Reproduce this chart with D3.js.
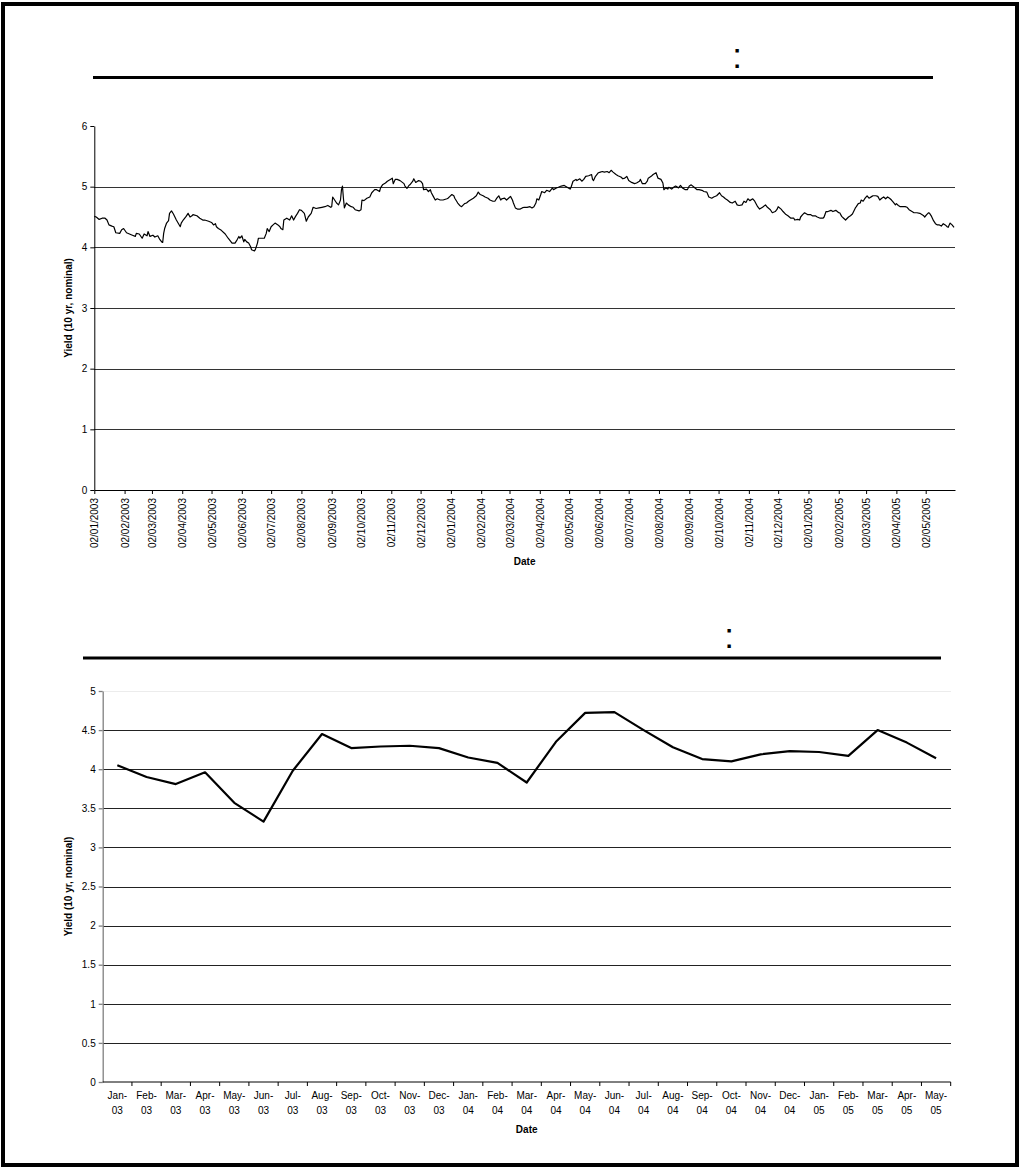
<!DOCTYPE html>
<html lang="en">
<head>
<meta charset="UTF-8">
<title>10 yr nominal yield</title>
<script src="https://d3js.org/d3.v7.min.js"></script>
<style>
  body { margin: 0; background: #fff; }
  svg text { font-family: Arial, 'Liberation Sans', sans-serif; fill: #000; }
  .tick text { font-size: 10px; }
  .axis-title { font-size: 10px; font-weight: bold; }
  .grid line { shape-rendering: crispEdges; }
</style>
</head>
<body>
<svg id="page" width="1020" height="1167"></svg>
<script>
// ---- daily series (top chart) ----
const dates2003 = ["2003-01-02","2003-01-04","2003-01-07","2003-01-10","2003-01-13","2003-01-15","2003-01-17","2003-01-20","2003-01-22","2003-01-24","2003-01-28","2003-01-30",
  "2003-02-01","2003-02-04","2003-02-07","2003-02-10","2003-02-13","2003-02-14","2003-02-17","2003-02-20","2003-02-22","2003-02-25","2003-02-26","2003-02-28",
  "2003-03-03","2003-03-05","2003-03-08","2003-03-10","2003-03-12","2003-03-13","2003-03-14","2003-03-15","2003-03-17","2003-03-19","2003-03-20","2003-03-22","2003-03-24","2003-03-27","2003-03-31",
  "2003-04-01","2003-04-03","2003-04-06","2003-04-08","2003-04-10","2003-04-12","2003-04-13","2003-04-17","2003-04-20","2003-04-23","2003-04-25","2003-04-29",
  "2003-05-02","2003-05-04","2003-05-06","2003-05-07","2003-05-09","2003-05-12","2003-05-16","2003-05-19","2003-05-23","2003-05-26","2003-05-28","2003-05-30","2003-05-31",
  "2003-06-02","2003-06-04","2003-06-05","2003-06-07","2003-06-09","2003-06-11","2003-06-12","2003-06-15","2003-06-16","2003-06-18","2003-06-19","2003-06-22","2003-06-25","2003-06-27","2003-06-28","2003-06-30",
  "2003-07-02","2003-07-04","2003-07-06","2003-07-09","2003-07-11","2003-07-12","2003-07-14","2003-07-15","2003-07-18","2003-07-21","2003-07-23","2003-07-25","2003-07-27","2003-07-29","2003-07-31",
  "2003-08-02","2003-08-05","2003-08-07","2003-08-09","2003-08-12","2003-08-14","2003-08-17","2003-08-20","2003-08-23","2003-08-26","2003-08-29",
  "2003-09-01","2003-09-02","2003-09-03","2003-09-05","2003-09-07","2003-09-09","2003-09-11","2003-09-12","2003-09-13","2003-09-14","2003-09-15","2003-09-17","2003-09-19","2003-09-22","2003-09-24","2003-09-26","2003-09-30",
  "2003-10-02","2003-10-03","2003-10-05","2003-10-08","2003-10-11","2003-10-13","2003-10-16","2003-10-18","2003-10-21","2003-10-22","2003-10-24","2003-10-27","2003-10-29",
  "2003-11-01","2003-11-03","2003-11-04","2003-11-06","2003-11-08","2003-11-11","2003-11-15","2003-11-16","2003-11-18","2003-11-20","2003-11-21","2003-11-24","2003-11-25","2003-11-27","2003-11-30",
  "2003-12-02","2003-12-04","2003-12-05","2003-12-08","2003-12-10","2003-12-12","2003-12-13","2003-12-15","2003-12-17","2003-12-19","2003-12-22","2003-12-25","2003-12-29","2003-12-30"];
const yields2003 = [4.51,4.50,4.46,4.48,4.48,4.45,4.37,4.35,4.34,4.24,4.23,4.29,
  4.31,4.24,4.22,4.20,4.18,4.23,4.22,4.15,4.22,4.19,4.26,4.18,
  4.20,4.17,4.19,4.13,4.09,4.08,4.23,4.31,4.40,4.44,4.56,4.60,4.55,4.45,4.34,
  4.40,4.45,4.51,4.56,4.50,4.52,4.54,4.52,4.48,4.45,4.45,4.43,
  4.41,4.37,4.39,4.34,4.31,4.28,4.22,4.15,4.07,4.07,4.12,4.18,4.15,
  4.19,4.09,4.13,4.09,4.07,4.01,3.96,3.94,3.97,4.07,4.15,4.15,4.15,4.23,4.31,4.26,
  4.34,4.37,4.40,4.37,4.34,4.31,4.29,4.45,4.48,4.45,4.52,4.45,4.51,4.56,4.62,
  4.61,4.56,4.43,4.50,4.56,4.66,4.64,4.65,4.66,4.67,4.69,
  4.66,4.67,4.83,4.78,4.73,4.70,4.78,4.95,5.01,4.81,4.65,4.73,4.70,4.67,4.66,4.62,4.60,
  4.62,4.78,4.77,4.81,4.83,4.90,4.95,4.95,4.92,4.98,5.03,5.06,5.09,
  5.12,5.14,5.05,5.12,5.12,5.10,5.05,5.01,4.97,5.02,5.03,5.09,5.13,5.07,5.10,
  5.09,5.05,4.95,4.96,4.92,4.95,4.90,4.84,4.78,4.80,4.78,4.78,4.80,4.81];

const dates2004 = ["2004-01-01","2004-01-03","2004-01-05","2004-01-06","2004-01-09","2004-01-11","2004-01-13","2004-01-16","2004-01-18","2004-01-20","2004-01-22","2004-01-25","2004-01-28","2004-01-30",
  "2004-02-01","2004-02-04","2004-02-06","2004-02-09","2004-02-11","2004-02-14","2004-02-16","2004-02-18","2004-02-20","2004-02-22","2004-02-23","2004-02-26","2004-02-28",
  "2004-03-01","2004-03-03","2004-03-05","2004-03-06","2004-03-08","2004-03-10","2004-03-13","2004-03-15","2004-03-17","2004-03-20","2004-03-23","2004-03-25","2004-03-27","2004-03-29","2004-03-30",
  "2004-04-01","2004-04-03","2004-04-04","2004-04-07","2004-04-09","2004-04-12","2004-04-15","2004-04-16","2004-04-19","2004-04-21","2004-04-24","2004-04-27","2004-04-30",
  "2004-05-03","2004-05-04","2004-05-06","2004-05-09","2004-05-10","2004-05-13","2004-05-15","2004-05-17","2004-05-19","2004-05-22","2004-05-25","2004-05-26","2004-05-27","2004-05-29",
  "2004-06-01","2004-06-03","2004-06-05","2004-06-07","2004-06-10","2004-06-12","2004-06-14","2004-06-16","2004-06-19","2004-06-21","2004-06-24","2004-06-26","2004-06-28","2004-06-30",
  "2004-07-02","2004-07-05","2004-07-08","2004-07-10","2004-07-13","2004-07-14","2004-07-16","2004-07-19","2004-07-21","2004-07-22","2004-07-25","2004-07-27","2004-07-30",
  "2004-08-01","2004-08-04","2004-08-06","2004-08-07","2004-08-09","2004-08-11","2004-08-12","2004-08-15","2004-08-17","2004-08-19","2004-08-22","2004-08-24","2004-08-26","2004-08-29","2004-08-31",
  "2004-09-02","2004-09-04","2004-09-07","2004-09-10","2004-09-12","2004-09-15","2004-09-17","2004-09-20","2004-09-22","2004-09-25","2004-09-27","2004-09-30",
  "2004-10-03","2004-10-05","2004-10-07","2004-10-09","2004-10-11","2004-10-14","2004-10-16","2004-10-19","2004-10-21","2004-10-23","2004-10-26","2004-10-28","2004-10-30",
  "2004-11-01","2004-11-03","2004-11-06","2004-11-08","2004-11-11","2004-11-13","2004-11-16","2004-11-19","2004-11-21","2004-11-24","2004-11-26","2004-11-29",
  "2004-12-01","2004-12-02","2004-12-05","2004-12-07","2004-12-10","2004-12-12","2004-12-15","2004-12-18","2004-12-19","2004-12-22","2004-12-24","2004-12-25","2004-12-27","2004-12-29"];
const yields2004 = [4.84,4.87,4.85,4.81,4.73,4.69,4.67,4.72,4.73,4.76,4.78,4.81,4.85,4.91,
  4.87,4.85,4.83,4.81,4.78,4.76,4.76,4.81,4.85,4.78,4.80,4.81,4.78,
  4.81,4.84,4.78,4.73,4.65,4.63,4.63,4.65,4.66,4.66,4.67,4.65,4.67,4.73,4.80,
  4.78,4.87,4.92,4.90,4.94,4.92,4.98,4.95,4.98,4.99,5.01,5.02,4.99,
  4.96,4.99,5.09,5.12,5.10,5.13,5.09,5.12,5.17,5.18,5.20,5.12,5.10,5.17,
  5.23,5.24,5.25,5.24,5.25,5.23,5.27,5.24,5.20,5.18,5.16,5.13,5.14,5.17,
  5.10,5.07,5.05,5.06,5.09,5.12,5.05,5.05,5.09,5.14,5.17,5.20,5.23,
  5.14,5.12,5.06,4.95,4.98,4.96,4.99,4.96,4.99,5.01,4.98,5.02,4.98,4.95,4.95,
  5.01,5.03,4.99,4.95,4.95,4.94,4.92,4.91,4.83,4.81,4.83,4.85,
  4.90,4.85,4.83,4.80,4.78,4.74,4.73,4.76,4.70,4.69,4.70,4.76,4.74,
  4.80,4.77,4.80,4.76,4.67,4.63,4.66,4.70,4.66,4.62,4.57,4.59,
  4.63,4.67,4.63,4.59,4.54,4.52,4.48,4.48,4.45,4.46,4.45,4.50,4.54,4.57];

const dates2005 = ["2005-01-01","2005-01-04","2005-01-06","2005-01-09","2005-01-11","2005-01-14","2005-01-17","2005-01-18","2005-01-20","2005-01-22","2005-01-25","2005-01-27","2005-01-30",
  "2005-02-02","2005-02-03","2005-02-05","2005-02-07","2005-02-09","2005-02-12","2005-02-14","2005-02-16","2005-02-19","2005-02-20","2005-02-22","2005-02-24","2005-02-25","2005-02-27",
  "2005-03-01","2005-03-03","2005-03-05","2005-03-08","2005-03-09","2005-03-12","2005-03-14","2005-03-16","2005-03-18","2005-03-20","2005-03-22","2005-03-24","2005-03-26","2005-03-28","2005-03-30",
  "2005-04-01","2005-04-02","2005-04-04","2005-04-06","2005-04-08","2005-04-11","2005-04-13","2005-04-15","2005-04-18","2005-04-20","2005-04-23","2005-04-26","2005-04-28","2005-04-30",
  "2005-05-01","2005-05-03","2005-05-05","2005-05-06","2005-05-08","2005-05-10","2005-05-12","2005-05-14","2005-05-16","2005-05-18","2005-05-20","2005-05-22","2005-05-24","2005-05-25","2005-05-27","2005-05-29","2005-05-31"];
const yields2005 = [4.54,4.54,4.52,4.52,4.50,4.48,4.48,4.50,4.59,4.59,4.61,4.59,4.61,
  4.57,4.57,4.51,4.48,4.45,4.50,4.52,4.55,4.65,4.67,4.72,4.73,4.78,4.76,
  4.81,4.85,4.81,4.84,4.85,4.85,4.84,4.78,4.81,4.83,4.80,4.83,4.81,4.78,4.74,
  4.70,4.72,4.69,4.67,4.67,4.67,4.66,4.62,4.59,4.57,4.57,4.56,4.54,4.52,
  4.50,4.54,4.57,4.56,4.51,4.44,4.39,4.37,4.37,4.35,4.39,4.37,4.34,4.33,4.40,4.37,4.33];

const dailyTickLabels = ["02/01/2003","02/02/2003","02/03/2003","02/04/2003","02/05/2003","02/06/2003","02/07/2003","02/08/2003","02/09/2003","02/10/2003","02/11/2003","02/12/2003",
  "02/01/2004","02/02/2004","02/03/2004","02/04/2004","02/05/2004","02/06/2004","02/07/2004","02/08/2004","02/09/2004","02/10/2004","02/11/2004","02/12/2004",
  "02/01/2005","02/02/2005","02/03/2005","02/04/2005","02/05/2005"];
const dailyYTicks = [0, 1, 2, 3, 4, 5, 6];

// ---- monthly series (bottom chart) ----
const months = ["Jan-03","Feb-03","Mar-03","Apr-03","May-03","Jun-03","Jul-03","Aug-03","Sep-03","Oct-03","Nov-03","Dec-03",
  "Jan-04","Feb-04","Mar-04","Apr-04","May-04","Jun-04","Jul-04","Aug-04","Sep-04","Oct-04","Nov-04","Dec-04",
  "Jan-05","Feb-05","Mar-05","Apr-05","May-05"];
const monthlyYields = [4.05,3.90,3.81,3.96,3.57,3.33,3.98,4.45,4.27,4.29,4.30,4.27,
  4.15,4.08,3.83,4.35,4.72,4.73,4.50,4.28,4.13,4.10,4.19,4.23,
  4.22,4.17,4.50,4.34,4.14];
const monthlyYTicks = [0, 0.5, 1, 1.5, 2, 2.5, 3, 3.5, 4, 4.5, 5];

const yTitle = "Yield (10 yr, nominal)";
const xTitle = "Date";

const svg = d3.select("#page");
const parseIso = d3.timeParse("%Y-%m-%d");
const parseDmy = d3.timeParse("%d/%m/%Y");

// page frame
svg.append("rect")
  .attr("x", 3).attr("y", 4).attr("width", 1014).attr("height", 1161)
  .attr("fill", "none").attr("stroke", "#000").attr("stroke-width", 4);

// heading rules with their colons
function heading(x1, x2, y, colonX, colonY) {
  svg.append("line").attr("x1", x1).attr("x2", x2).attr("y1", y).attr("y2", y)
    .attr("stroke", "#000").attr("stroke-width", 3);
  svg.append("text").attr("x", colonX).attr("y", colonY)
    .attr("text-anchor", "middle").style("font-size", "35px").text(":");
}
heading(93, 933, 77.5, 737, 67.5);
heading(83, 941, 658, 729, 647.5);

// ---------- top chart: daily ----------
{
  const left = 94.3, right = 955, top = 126, bottom = 490;
  const daily = dates2003.concat(dates2004, dates2005).map((d, i) => ({
    date: parseIso(d),
    value: yields2003.concat(yields2004, yields2005)[i]
  }));
  const x = d3.scaleTime()
    .domain([parseIso("2003-01-02"), parseIso("2005-06-01")])
    .range([left, right]);
  const y = d3.scaleLinear().domain([0, 6]).range([bottom, top]);

  svg.append("g").attr("class", "grid")
    .selectAll("line").data(dailyYTicks.filter(v => v > 0 && v < 6)).enter().append("line")
    .attr("x1", left).attr("x2", right)
    .attr("y1", d => Math.round(y(d)) + 0.5).attr("y2", d => Math.round(y(d)) + 0.5)
    .attr("stroke", "#333").attr("stroke-width", 1);

  const yAxis = svg.append("g")
    .attr("transform", `translate(${left},0)`)
    .call(d3.axisLeft(y).tickValues(dailyYTicks).tickSize(4).tickSizeOuter(0).tickPadding(3).tickFormat(d3.format("d")));
  yAxis.selectAll("path, line").attr("stroke", "#000");

  const xAxis = svg.append("g")
    .attr("transform", `translate(0,${bottom})`)
    .call(d3.axisBottom(x).tickValues(dailyTickLabels.map(parseDmy))
      .tickFormat(d3.timeFormat("%d/%m/%Y")).tickSize(4).tickSizeOuter(0));
  xAxis.selectAll("path, line").attr("stroke", "#000");
  xAxis.selectAll("text")
    .attr("transform", "rotate(-90)")
    .attr("text-anchor", "end")
    .attr("x", -8).attr("y", 0).attr("dy", "0.35em");

  svg.append("path").datum(daily)
    .attr("fill", "none").attr("stroke", "#000").attr("stroke-width", 1.2)
    .attr("stroke-linejoin", "round")
    .attr("d", d3.line().x(d => x(d.date)).y(d => y(d.value)));

  svg.append("text").attr("class", "axis-title")
    .attr("x", (left + right) / 2).attr("y", 565).attr("text-anchor", "middle").text(xTitle);
  svg.append("text").attr("class", "axis-title")
    .attr("transform", `translate(72,${(top + bottom) / 2}) rotate(-90)`)
    .attr("text-anchor", "middle").text(yTitle);
}

// ---------- bottom chart: monthly ----------
{
  const left = 102.7, right = 950.7, top = 691, bottom = 1082;
  const x = d3.scaleBand().domain(months).range([left, right]).padding(0);
  const y = d3.scaleLinear().domain([0, 5]).range([bottom, top]);

  svg.append("g").attr("class", "grid")
    .selectAll("line").data(monthlyYTicks.filter(v => v > 0)).enter().append("line")
    .attr("x1", left).attr("x2", right)
    .attr("y1", d => Math.round(y(d)) + 0.5).attr("y2", d => Math.round(y(d)) + 0.5)
    .attr("stroke", d => d === 5 ? "#ececec" : "#222").attr("stroke-width", 1);

  const yAxis = svg.append("g")
    .attr("transform", `translate(${left},0)`)
    .call(d3.axisLeft(y).tickValues(monthlyYTicks).tickSize(4).tickSizeOuter(0).tickPadding(3)
      .tickFormat(d3.format("~g")));
  yAxis.selectAll("path, line").attr("stroke", "#808080").attr("stroke-width", 1.3);

  // category axis: ticks sit between the months
  const xAxis = svg.append("g").attr("transform", `translate(0,${bottom})`);
  xAxis.append("line").attr("x1", left).attr("x2", right)
    .attr("stroke", "#000").attr("stroke-width", 1);
  xAxis.selectAll(".mtick").data(months).enter().append("line").attr("class", "mtick")
    .attr("x1", d => x(d) + x.bandwidth()).attr("x2", d => x(d) + x.bandwidth())
    .attr("y1", 0).attr("y2", 4).attr("stroke", "#000");
  const labels = xAxis.selectAll(".mlabel").data(months).enter().append("text")
    .attr("class", "mlabel").attr("text-anchor", "middle").style("font-size", "10px");
  labels.append("tspan").attr("x", d => x(d) + x.bandwidth() / 2).attr("y", 17)
    .text(d => d.split("-")[0] + "-");
  labels.append("tspan").attr("x", d => x(d) + x.bandwidth() / 2).attr("y", 32)
    .text(d => d.split("-")[1]);

  svg.append("path").datum(monthlyYields)
    .attr("fill", "none").attr("stroke", "#000").attr("stroke-width", 2.2)
    .attr("stroke-linejoin", "round")
    .attr("d", d3.line().x((d, i) => x(months[i]) + x.bandwidth() / 2).y(d => y(d)));

  svg.append("text").attr("class", "axis-title")
    .attr("x", (left + right) / 2).attr("y", 1133).attr("text-anchor", "middle").text(xTitle);
  svg.append("text").attr("class", "axis-title")
    .attr("transform", `translate(72,${(top + bottom) / 2}) rotate(-90)`)
    .attr("text-anchor", "middle").text(yTitle);
}
</script>
</body>
</html>
